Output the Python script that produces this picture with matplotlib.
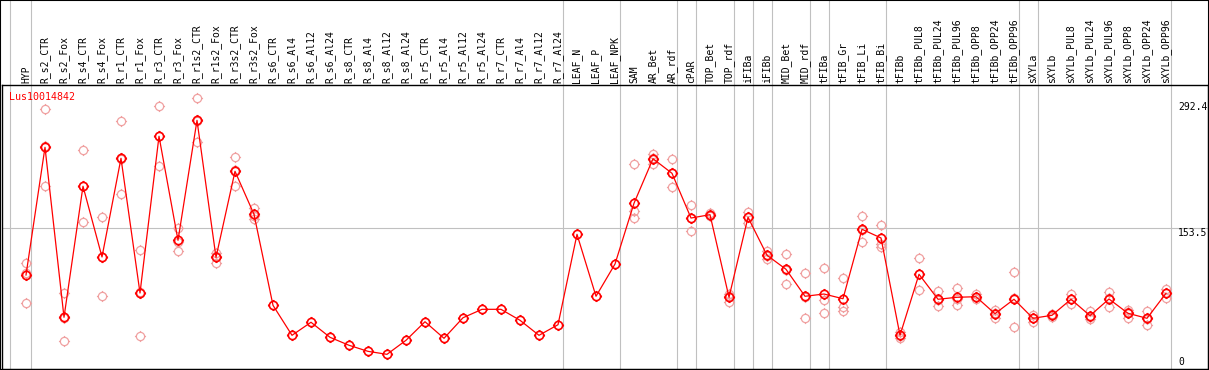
import numpy as np
import matplotlib
matplotlib.use('Agg')
import matplotlib.pyplot as plt
from matplotlib.path import Path
from matplotlib.patches import Rectangle

labels = ['HYP', 'R_s2_CTR', 'R_s2_Fox', 'R_s4_CTR', 'R_s4_Fox', 'R_r1_CTR', 'R_r1_Fox',
          'R_r3_CTR', 'R_r3_Fox', 'R_r1s2_CTR', 'R_r1s2_Fox', 'R_r3s2_CTR', 'R_r3s2_Fox',
          'R_s6_CTR', 'R_s6_Al4', 'R_s6_Al12', 'R_s6_Al24', 'R_s8_CTR', 'R_s8_Al4',
          'R_s8_Al12', 'R_s8_Al24', 'R_r5_CTR', 'R_r5_Al4', 'R_r5_Al12', 'R_r5_Al24',
          'R_r7_CTR', 'R_r7_Al4', 'R_r7_Al12', 'R_r7_Al24', 'LEAF_N', 'LEAF_P', 'LEAF_NPK',
          'SAM', 'AR_Bet', 'AR_rdf', 'cPAR', 'TOP_Bet', 'TOP_rdf', 'iFIBa', 'iFIBb',
          'MID_Bet', 'MID_rdf', 'tFIBa', 'tFIB_Gr', 'tFIB_Li', 'tFIB_Bi', 'tFIBb',
          'tFIBb_PUL8', 'tFIBb_PUL24', 'tFIBb_PUL96', 'tFIBb_OPP8', 'tFIBb_OPP24',
          'tFIBb_OPP96', 'sXYLa', 'sXYLb', 'sXYLb_PUL8', 'sXYLb_PUL24', 'sXYLb_PUL96',
          'sXYLb_OPP8', 'sXYLb_OPP24', 'sXYLb_OPP96']

means = [101.6, 242.6, 54.9, 199.6, 121.5, 230.5, 81.7, 254.8, 139.9, 272.4, 121.1,
         216.1, 168.6, 68.1, 35.0, 49.4, 32.8, 24.0, 17.3, 14.0, 29.5, 50.0, 31.7,
         54.4, 63.7, 63.7, 51.6, 35.0, 46.7, 146.5, 78.1, 113.7, 180.8, 230.0, 213.9,
         164.5, 168.2, 77.0, 165.3, 123.4, 107.9, 78.1, 80.6, 75.4, 152.1, 142.5, 35.0,
         102.4, 74.8, 77.0, 77.6, 58.9, 74.8, 53.8, 57.1, 74.8, 56.7, 75.1, 59.3, 53.8,
         81.4]

# replicates (empty where none shown)
reps = [(115.2, 104.1, 70.3), (284.6, 199.6, 243.6), (82.1, 28.4, 54.2),
        (239.3, 159.8, 199.7), (165.3, 78.1, 121.1), (271.3, 190.7, 229.5),
        (128.9, 33.9, 82.3), (287.9, 221.6, 254.9), (153.5, 127.8, 138.4),
        (296.7, 248.8, 271.7), (125.9, 115.2, 122.2), (231.6, 199.6, 217.1),
        (175.6, 163.1, 167.1),
        (), (), (), (), (), (), (), (), (), (), (), (), (), (), (), (), (), (), (),
        (224.2, 172.6, 164.5), (235.2, 224.2, 230.6), (229.4, 198.5, 213.8),
        (178.6, 149.9, 165.0), (170.6, 166.8, 167.9), (80.6, 71.8, 78.6),
        (171.2, 158.7, 166.0), (128.4, 119.6, 122.2), (124.5, 91.7, 107.5),
        (103.5, 53.8, 77.0), (109.0, 74.0, 59.3), (98.0, 65.9, 62.2),
        (166.8, 138.4, 151.0), (156.8, 135.8, 132.9), (38.7, 31.7, 34.6),
        (120.0, 84.7, 102.5), (83.9, 67.0, 73.5), (86.9, 68.5, 75.6),
        (80.6, 74.8, 77.4), (62.9, 54.4, 59.4), (104.9, 43.8, 75.7),
        (57.4, 50.0, 54.0), (58.5, 55.5, 57.3), (80.6, 69.2, 74.6),
        (61.8, 52.7, 55.6), (82.8, 66.6, 75.9), (62.9, 54.4, 60.6),
        (61.8, 46.1, 53.5), (86.5, 75.9, 81.8)]

group_after = [0, 28, 31, 34, 35, 37, 38, 39, 41, 42, 45, 52, 53, 60]
yticks = [292.4, 153.5, 0]
gene = 'Lus10014842'

# circle marker with little ticks, like the original bitmap glyph
tick_v, tick_c = [], []
for dx, dy in [(1, 0), (-1, 0), (0, 1), (0, -1)]:
    tick_v += [(dx, dy), (1.35*dx, 1.35*dy)]
    tick_c += [Path.MOVETO, Path.LINETO]
mk = Path.make_compound_path(Path.unit_circle(), Path(tick_v, tick_c))

W, H = 1209, 370
fig = plt.figure(figsize=(W/100, H/100), dpi=100)
ax = fig.add_axes([1.5/W, 1/H, 1206/W, 284/H])

x = np.arange(len(labels))
ax.set_xlim((1.5-26)/19, (1207.5-26)/19)
ax.set_ylim(-2.2, 311.4)

ax.axhline(153.5, color='#c0c0c0', lw=0.8, zorder=0)
for g in [-0.83] + [i + 0.25 for i in group_after]:
    ax.axvline(g, ymin=0, ymax=1.3, color='#c0c0c0', lw=0.8, clip_on=False, zorder=0)

for i, r in enumerate(reps):
    if r:
        ax.plot([i]*len(r), r, ls='none', marker=mk, ms=8, mfc='none',
                mec='#f0a0a0', mew=0.9, zorder=2)

ax.plot(x, means, color='red', lw=0.9, marker=mk, ms=8, mfc='none',
        mec='red', mew=1.2, zorder=3)

ax.xaxis.tick_top()
ax.set_xticks(x)
ax.set_xticklabels(labels, rotation=90, family='DejaVu Sans Mono', fontsize=7)
ax.tick_params(axis='x', length=0, pad=1.5)
ax.set_yticks([])

for v in yticks:
    ax.text(60.63, v, str(v) if v else '0', family='DejaVu Sans Mono', fontsize=7,
            ha='left', va='top' if v else 'bottom', clip_on=True)

ax.text(7.8/1206, 0.959, gene, transform=ax.transAxes, color='red',
        family='DejaVu Sans Mono', fontsize=7.2, ha='left', va='center')

for s in ax.spines.values():
    s.set_linewidth(1.0)

fig.patches.append(Rectangle((0, 0), 1, 1, transform=fig.transFigure,
                             fill=False, ec='black', lw=1.5))

fig.savefig('out.png', dpi=100)
